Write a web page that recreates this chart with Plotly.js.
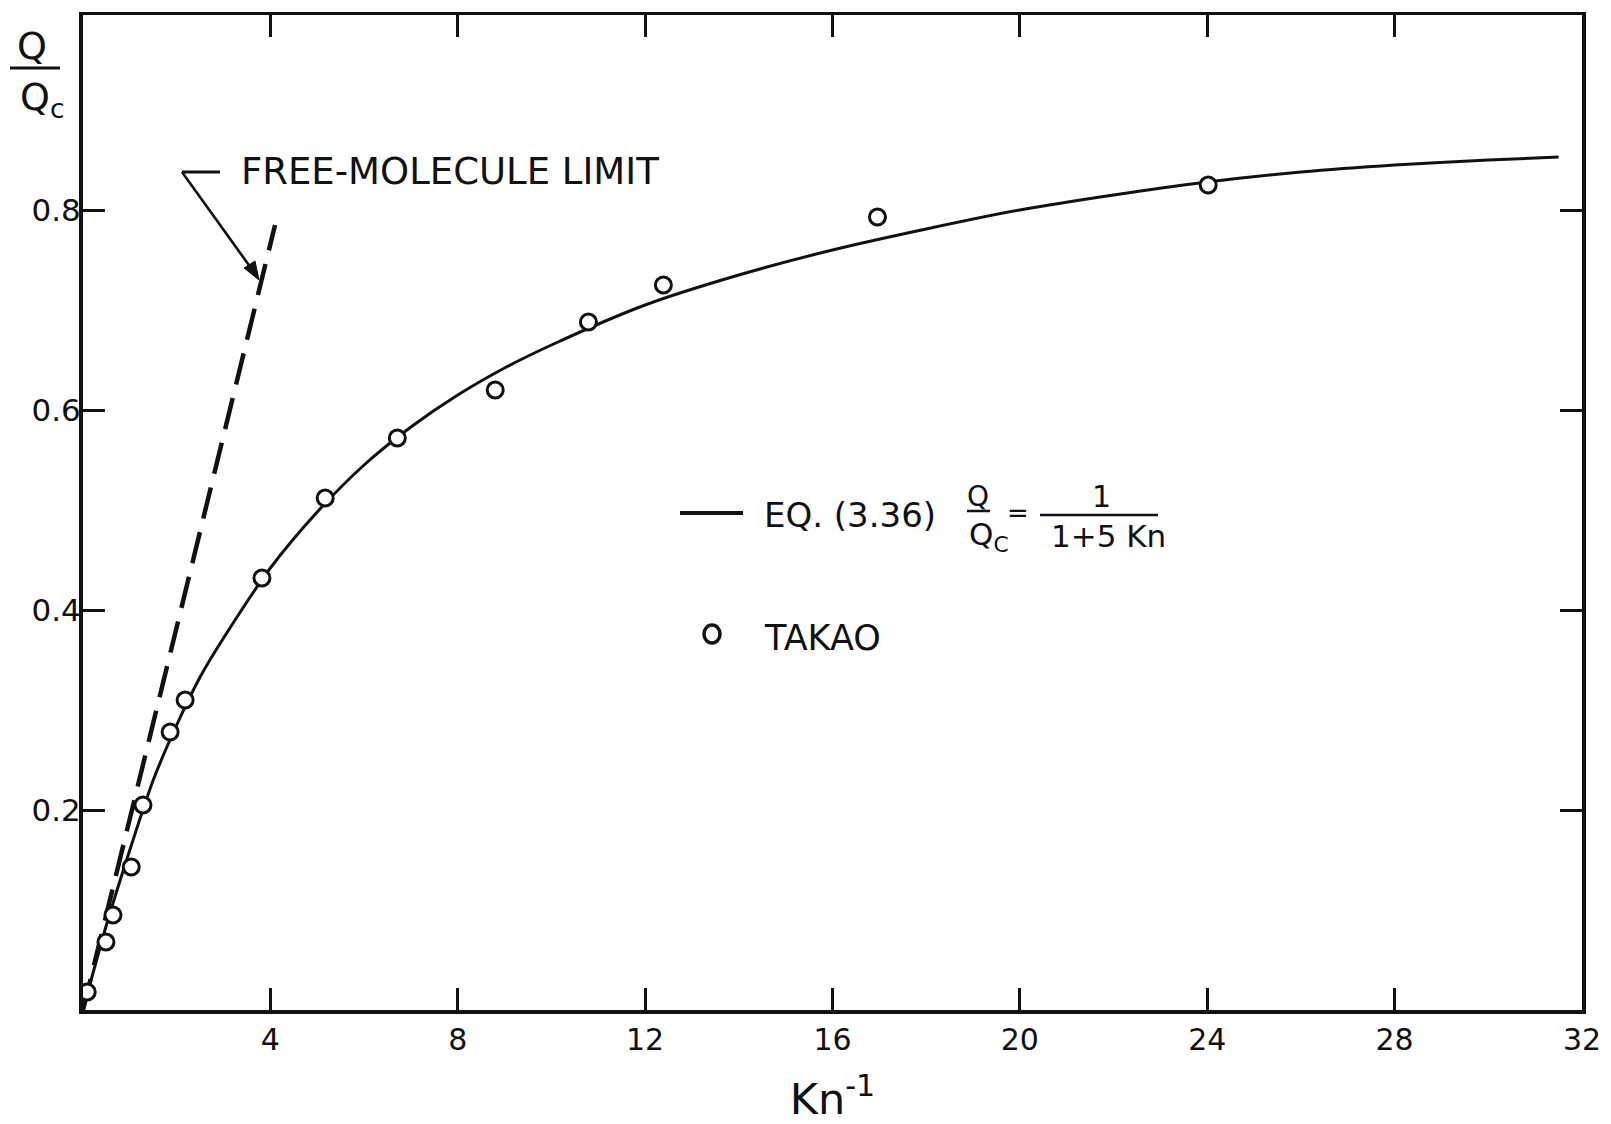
<!DOCTYPE html>
<html>
<head>
<meta charset="utf-8">
<script src="https://cdn.plot.ly/plotly-3.0.1.min.js"></script>
<style>html,body{margin:0;padding:0;background:#fff;}#chart{width:1611px;height:1124px;}</style>
</head>
<body>
<div id="chart"></div>
<script>
// Data
const takaoX = [0.09, 0.49, 0.64, 1.03, 1.28, 1.86, 2.18, 3.82, 5.17, 6.71, 8.80, 10.79, 12.39, 16.96, 24.02];
const takaoY = [0.018, 0.068, 0.095, 0.143, 0.205, 0.278, 0.310, 0.432, 0.512, 0.572, 0.620, 0.688, 0.725, 0.793, 0.825];

const eqX = [0, 0.5, 1, 1.5, 2, 2.5, 3, 4, 5, 6, 7, 8, 9, 10, 12, 14, 16, 18, 20, 22, 24, 26, 28, 30, 31.5];
const eqY = [0, 0.085, 0.16, 0.23, 0.285, 0.333, 0.372, 0.442, 0.498, 0.545, 0.583, 0.615, 0.642, 0.665, 0.705, 0.735, 0.760, 0.781, 0.80, 0.815, 0.828, 0.838, 0.845, 0.850, 0.853];

const freeX = [0, 4.1];
const freeY = [0, 0.785];

const xTickVals = [4, 8, 12, 16, 20, 24, 28, 32];
const xTickText = ['4', '8', '12', '16', '20', '24', '28', '32'];
const yTickVals = [0.2, 0.4, 0.6, 0.8];
const yTickText = ['0.2', '0.4', '0.6', '0.8'];

const FONT = 'DejaVu Sans, Liberation Sans, sans-serif';
const INK = '#111';

// plot area geometry (pixels)
const L = 83, R = 1582, T = 15, B = 1010;
const px2x = p => (p - L) / (R - L);
const py2y = p => (B - p) / (B - T);

const traces = [
  {x: freeX, y: freeY, mode: 'lines', line: {color: INK, width: 4.5, dash: '32px,14px'}, hoverinfo: 'skip'},
  {x: eqX, y: eqY, mode: 'lines', line: {color: INK, width: 3, shape: 'spline', smoothing: 0.8}, hoverinfo: 'skip'},
  {x: takaoX, y: takaoY, mode: 'markers', marker: {symbol: 'circle', size: 16, color: '#fff', line: {color: INK, width: 3}}}
];

const layout = {
  width: 1611, height: 1124,
  margin: {l: L, r: 1611 - R, t: T, b: 1124 - B},
  paper_bgcolor: '#fff', plot_bgcolor: '#fff',
  showlegend: false,
  font: {family: FONT, color: INK, size: 30},
  xaxis: {
    range: [0, 32], tickmode: 'array', tickvals: xTickVals, ticktext: xTickText,
    ticks: 'inside', ticklen: 22, tickwidth: 3, tickcolor: INK,
    showline: true, linewidth: 3.5, linecolor: INK, mirror: 'ticks',
    showgrid: false, zeroline: false,
    tickfont: {size: 30, family: FONT},
    title: {text: 'Kn<sup>-1</sup>', font: {size: 43, family: FONT}, standoff: 34}
  },
  yaxis: {
    range: [0, 0.995], tickmode: 'array', tickvals: yTickVals, ticktext: yTickText,
    ticks: 'inside', ticklen: 22, tickwidth: 3, tickcolor: INK,
    showline: true, linewidth: 4, linecolor: INK, mirror: 'ticks',
    showgrid: false, zeroline: false,
    tickfont: {size: 31, family: FONT},
    ticklabelstandoff: -8
  },
  shapes: [
    // y-axis title fraction bar
    {type: 'line', xref: 'paper', yref: 'paper', x0: px2x(10), x1: px2x(60), y0: py2y(68), y1: py2y(68), line: {color: INK, width: 3}},
    // pointer horizontal stroke
    {type: 'line', xref: 'paper', yref: 'paper', x0: px2x(182), x1: px2x(220), y0: py2y(172), y1: py2y(172), line: {color: INK, width: 3}},
    // pointer diagonal stroke
    {type: 'line', xref: 'paper', yref: 'paper', x0: px2x(182), x1: px2x(256), y0: py2y(172), y1: py2y(275), line: {color: INK, width: 2.6}},
    // pointer arrowhead
    {type: 'path', xref: 'paper', yref: 'paper',
     path: 'M ' + px2x(259) + ' ' + py2y(280) + ' L ' + px2x(244) + ' ' + py2y(268) + ' L ' + px2x(255) + ' ' + py2y(261) + ' Z',
     fillcolor: INK, line: {color: INK, width: 1}},
    // legend line sample
    {type: 'line', xref: 'paper', yref: 'paper', x0: px2x(680), x1: px2x(743), y0: py2y(513), y1: py2y(513), line: {color: INK, width: 4}},
    // Q/Qc fraction bar
    {type: 'line', xref: 'paper', yref: 'paper', x0: px2x(967), x1: px2x(990), y0: py2y(511), y1: py2y(511), line: {color: INK, width: 2.5}},
    // 1/(1+5Kn) fraction bar
    {type: 'line', xref: 'paper', yref: 'paper', x0: px2x(1040), x1: px2x(1158), y0: py2y(515), y1: py2y(515), line: {color: INK, width: 2.5}},
    // legend marker sample
    {type: 'circle', xref: 'paper', yref: 'paper', xsizemode: 'pixel', ysizemode: 'pixel',
     xanchor: px2x(712), yanchor: py2y(634), x0: -8, x1: 8, y0: -9, y1: 9, line: {color: INK, width: 3.5}}
  ],
  annotations: [
    {xref: 'paper', yref: 'paper', x: px2x(32), y: py2y(46), text: 'Q', showarrow: false, font: {size: 38, family: FONT}, xanchor: 'center', yanchor: 'middle'},
    {xref: 'paper', yref: 'paper', x: px2x(18), y: py2y(99), text: 'Q<sub>c</sub>', showarrow: false, font: {size: 38, family: FONT}, xanchor: 'left', yanchor: 'middle'},
    {xref: 'paper', yref: 'paper', x: px2x(239), y: py2y(172), text: 'FREE-MOLECULE LIMIT', showarrow: false, font: {size: 37, family: FONT}, xanchor: 'left', yanchor: 'middle'},
    {xref: 'paper', yref: 'paper', x: px2x(762), y: py2y(515), text: 'EQ. (3.36)', showarrow: false, font: {size: 34, family: FONT}, xanchor: 'left', yanchor: 'middle'},
    {xref: 'paper', yref: 'paper', x: px2x(978), y: py2y(496), text: 'Q', showarrow: false, font: {size: 28, family: FONT}, xanchor: 'center', yanchor: 'middle'},
    {xref: 'paper', yref: 'paper', x: px2x(967), y: py2y(536), text: 'Q<sub>C</sub>', showarrow: false, font: {size: 31, family: FONT}, xanchor: 'left', yanchor: 'middle'},
    {xref: 'paper', yref: 'paper', x: px2x(1018), y: py2y(513), text: '=', showarrow: false, font: {size: 26, family: FONT}, xanchor: 'center', yanchor: 'middle'},
    {xref: 'paper', yref: 'paper', x: px2x(1101), y: py2y(496), text: '1', showarrow: false, font: {size: 30, family: FONT}, xanchor: 'center', yanchor: 'middle'},
    {xref: 'paper', yref: 'paper', x: px2x(1108), y: py2y(536), text: '1+5 Kn', showarrow: false, font: {size: 31, family: FONT}, xanchor: 'center', yanchor: 'middle'},
    {xref: 'paper', yref: 'paper', x: px2x(762), y: py2y(638), text: 'TAKAO', showarrow: false, font: {size: 35, family: FONT}, xanchor: 'left', yanchor: 'middle'}
  ]
};

Plotly.newPlot('chart', traces, layout, {staticPlot: true, displayModeBar: false});
</script>
</body>
</html>
